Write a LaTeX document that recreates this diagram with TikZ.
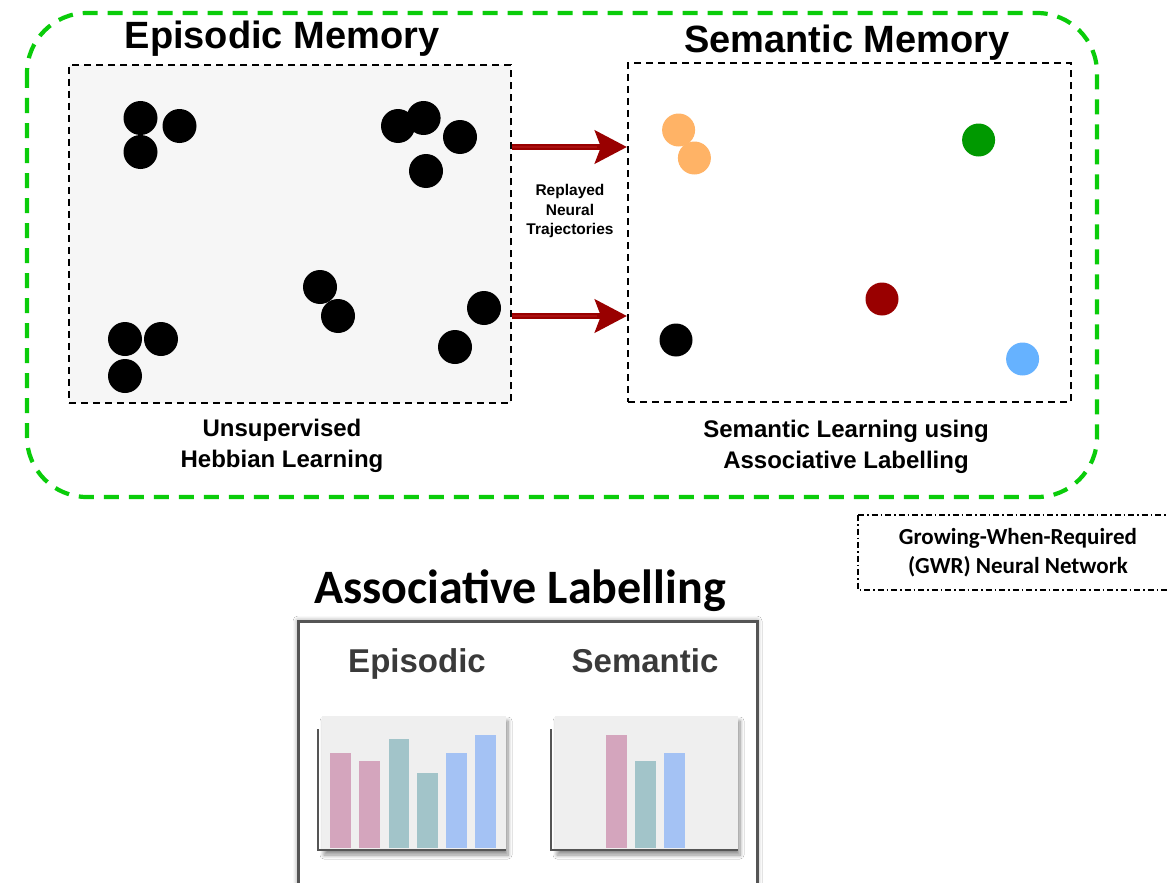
\documentclass[tikz,border=0pt]{standalone}
\usepackage{fontspec}
\setmainfont{Liberation Sans}
\newfontfamily\calib{Carlito}
\usetikzlibrary{arrows.meta,shadows.blur}

\definecolor{memgreen}{HTML}{0ACC0A}
\definecolor{epifill}{HTML}{F6F6F6}
\definecolor{arrowred}{HTML}{990000}
\definecolor{arrowhi}{HTML}{AA1010}
\definecolor{dotorange}{HTML}{FFB366}
\definecolor{dotgreen}{HTML}{009900}
\definecolor{dotred}{HTML}{990000}
\definecolor{dotblue}{HTML}{66B2FF}
\definecolor{barpink}{HTML}{D4A5BD}
\definecolor{barteal}{HTML}{A2C4C9}
\definecolor{barblue}{HTML}{A4C2F4}
\definecolor{panelgray}{HTML}{EFEFEF}
\definecolor{framegray}{HTML}{555555}
\definecolor{labelgray}{HTML}{3A3A3A}

\tikzset{
  membox/.style={draw=black, line width=2.2pt, dash pattern=on 7pt off 5pt,
    inner sep=0pt, minimum width=#1},
  title/.style={font=\fontsize{38}{44}\selectfont\bfseries, inner sep=0pt, anchor=base},
  caption/.style={font=\fontsize{24}{31}\selectfont\bfseries, align=center, inner sep=0pt},
  replay/.style={draw=arrowred, line width=6pt,
    -{Stealth[length=32pt,width=33pt,inset=6pt]}},
  replayhi/.style={draw=arrowhi, line width=1.5pt, shorten >=30pt},
  gwrbox/.style={draw=black, line width=1.5pt,
    dash pattern=on 6pt off 3pt on 1.5pt off 3pt, inner sep=0pt},
  chartlabel/.style={font=\fontsize{33}{38}\selectfont\bfseries, text=labelgray,
    inner sep=0pt, anchor=base},
  panel/.style={fill=panelgray,
    blur shadow={shadow xshift=2pt, shadow yshift=-5pt, shadow blur steps=8,
      shadow blur radius=4pt, shadow opacity=45}},
  frame/.style={draw=framegray, line width=2.5pt},
}

\begin{document}
\begin{tikzpicture}[x=1pt,y=-1pt]
\useasboundingbox (0,0) rectangle (1168,883);
\fill[white] (0,0) rectangle (1168,883);

% outer GWR region
\draw[memgreen, line width=4.2pt, dash pattern=on 15pt off 10pt, rounded corners=60pt]
  (27,13) rectangle (1097,497);

% memory boxes
\node[membox=442pt, minimum height=338pt, fill=epifill] (epi) at (290,234) {};
\node[membox=443pt, minimum height=339pt] (sem) at (849.5,232.5) {};

\node[title] (epititle) at (282,49) {Episodic Memory};
\node[title] (semtitle) at (847,53) {Semantic Memory};

% episodic prototypes
\foreach \x/\y in {140.5/118, 179.5/126, 140.5/152,
                   398/126, 423.6/118, 460/137, 426/171,
                   320/287, 338/316, 484/308, 455/347,
                   125/339, 161/339, 125/376}
  \fill[black] (\x,\y) circle (17pt);

% semantic prototypes
\fill[dotorange] (678.6,130) circle (16.5pt);
\fill[dotorange] (694.4,158) circle (16.5pt);
\fill[dotgreen] (978.6,140) circle (16.5pt);
\fill[dotred] (882,299) circle (16.5pt);
\fill[black] (676,340) circle (16.5pt);
\fill[dotblue] (1022.6,359) circle (16.5pt);

% replay connectors
\coordinate (r1) at (0,147);
\coordinate (r2) at (0,316);
\draw[replay] (epi.east |- r1) -- (sem.west |- r1);
\draw[replayhi] (epi.east |- r1) -- (sem.west |- r1);
\draw[replay] (epi.east |- r2) -- (sem.west |- r2);
\draw[replayhi] (epi.east |- r2) -- (sem.west |- r2);

\node[font=\fontsize{15.5}{19.5}\selectfont\bfseries, align=center, inner sep=0pt]
  (replaytxt) at (570,211) {Replayed\\Neural\\Trajectories};

\node[caption] (epicap) at (282,446) {Unsupervised\\Hebbian Learning};
\node[caption] (semcap) at (846,447) {Semantic Learning using\\Associative Labelling};

% GWR legend
\draw[gwrbox] (858,515) -- (1175,515) (858,515) -- (858,590) -- (1175,590);
\node[font=\calib\fontsize{23}{29}\selectfont\bfseries, align=center, inner sep=0pt]
  (gwr) at (1018,553) {Growing-When-Required\\(GWR) Neural Network};

% associative labelling
\node[font=\calib\fontsize{48}{52}\selectfont\bfseries, inner sep=0pt, anchor=base]
  (assoc) at (520,603) {Associative Labelling};

\draw[draw=framegray, line width=3pt, fill=white,
  blur shadow={shadow xshift=0pt, shadow yshift=0pt, shadow blur steps=8,
    shadow blur radius=5pt, shadow opacity=45}]
  (298,621) rectangle (757,900);

\node[chartlabel] (epilbl) at (417,672) {Episodic};
\node[chartlabel] (semlbl) at (645,672) {Semantic};

% episodic histogram
\fill[panel] (322,716) rectangle (506,850);
\fill[barpink] (330,753) rectangle (351,848);
\fill[barpink] (359,761) rectangle (380,848);
\fill[barteal] (389,739) rectangle (409,848);
\fill[barteal] (417,773) rectangle (438,848);
\fill[barblue] (446,753) rectangle (467,848);
\fill[barblue] (475,735) rectangle (496,848);
\draw[frame] (318,729) -- (318,850) -- (506,850);

% semantic histogram
\fill[panel] (555,716) rectangle (738,850);
\fill[barpink] (606,735) rectangle (627,848);
\fill[barteal] (635,761) rectangle (656,848);
\fill[barblue] (664,753) rectangle (685,848);
\draw[frame] (551,729) -- (551,850) -- (738,850);
\end{tikzpicture}
\end{document}
